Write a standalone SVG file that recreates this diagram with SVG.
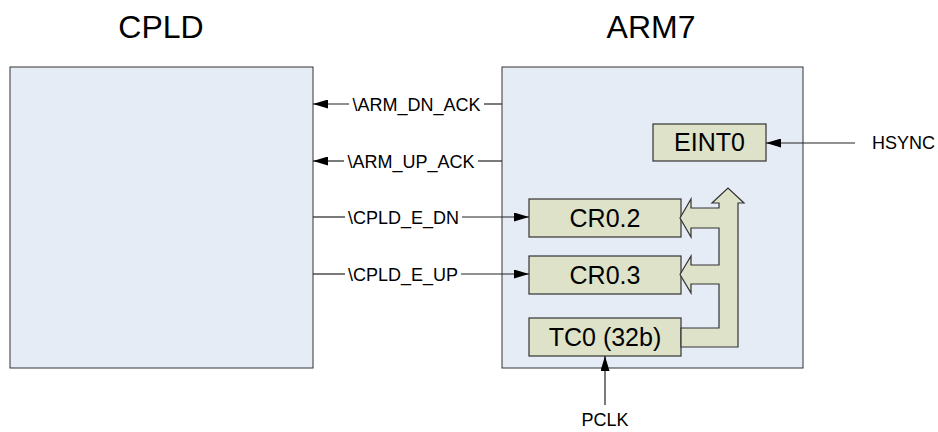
<svg xmlns="http://www.w3.org/2000/svg" width="938" height="432" viewBox="0 0 938 432">
<defs>
<style>
.t{font-family:"Liberation Sans",Arial,sans-serif;fill:#000}
.title{font-size:32px;text-anchor:middle}
.sig{font-size:18px}
.bt{font-size:25px;text-anchor:middle}
.chip{fill:#e6ecf6;stroke:#333;stroke-width:1}
.reg{fill:#dde2c9;stroke:#333;stroke-width:1.2}
.ln{stroke:#222;stroke-width:1.2;fill:none}
</style>
<marker id="ah" markerWidth="15" markerHeight="9" refX="15" refY="4.5" orient="auto" markerUnits="userSpaceOnUse">
<path d="M0,0 L15,4.5 L0,9 Z" fill="#000"/>
</marker>
</defs>
<rect width="938" height="432" fill="#fff"/>
<g id="cpld">
<rect class="chip" x="10" y="67" width="303" height="301"/>
<text class="t title" x="161" y="38">CPLD</text>
</g>
<g id="arm7">
<rect class="chip" x="502" y="67" width="301" height="301"/>
<text class="t title" x="651" y="38">ARM7</text>
</g>
<g id="eint0">
<rect class="reg" x="653" y="124" width="113" height="37"/>
<text class="t bt" x="709.5" y="151">EINT0</text>
</g>
<g id="cr02">
<rect class="reg" x="529" y="199" width="152" height="38"/>
<text class="t bt" x="605" y="227">CR0.2</text>
</g>
<g id="cr03">
<rect class="reg" x="529" y="256" width="152" height="38"/>
<text class="t bt" x="605" y="284">CR0.3</text>
</g>
<g id="tc0">
<rect class="reg" x="529" y="318" width="152" height="38"/>
<text class="t bt" x="605" y="346">TC0 (32b)</text>
</g>
<g id="bus">
<path class="reg" d="M681,347 L738,347 L738,203 L744,203 L728,188 L712,203 L719,203 L719,208 L691,208 L691,199 L680,218 L691,237 L691,228 L719,228 L719,265 L691,265 L691,256 L680,274.5 L691,293 L691,284 L719,284 L719,328 L681,328 Z" stroke-width="1.5"/>
</g>
<g id="connectors">
<line class="ln" x1="502" y1="104" x2="484" y2="104"/>
<line class="ln" x1="349" y1="104" x2="313" y2="104" marker-end="url(#ah)"/>
<line class="ln" x1="502" y1="161" x2="478" y2="161"/>
<line class="ln" x1="344" y1="161" x2="313" y2="161" marker-end="url(#ah)"/>
<line class="ln" x1="313" y1="217" x2="345" y2="217"/>
<line class="ln" x1="462" y1="217" x2="529" y2="217" marker-end="url(#ah)"/>
<line class="ln" x1="313" y1="274" x2="345" y2="274"/>
<line class="ln" x1="461" y1="274" x2="529" y2="274" marker-end="url(#ah)"/>
<line class="ln" x1="855" y1="143" x2="766" y2="143" marker-end="url(#ah)"/>
<line class="ln" x1="605" y1="405" x2="605" y2="356" marker-end="url(#ah)"/>
</g>
<g id="labels">
<text class="t sig" x="416.5" y="110.5" text-anchor="middle">\ARM_DN_ACK</text>
<text class="t sig" x="411" y="167.5" text-anchor="middle">\ARM_UP_ACK</text>
<text class="t sig" x="403.5" y="223.5" text-anchor="middle">\CPLD_E_DN</text>
<text class="t sig" x="403" y="280.5" text-anchor="middle">\CPLD_E_UP</text>
<text class="t sig" x="872" y="149">HSYNC</text>
<text class="t sig" x="605" y="426" text-anchor="middle">PCLK</text>
</g>
</svg>
